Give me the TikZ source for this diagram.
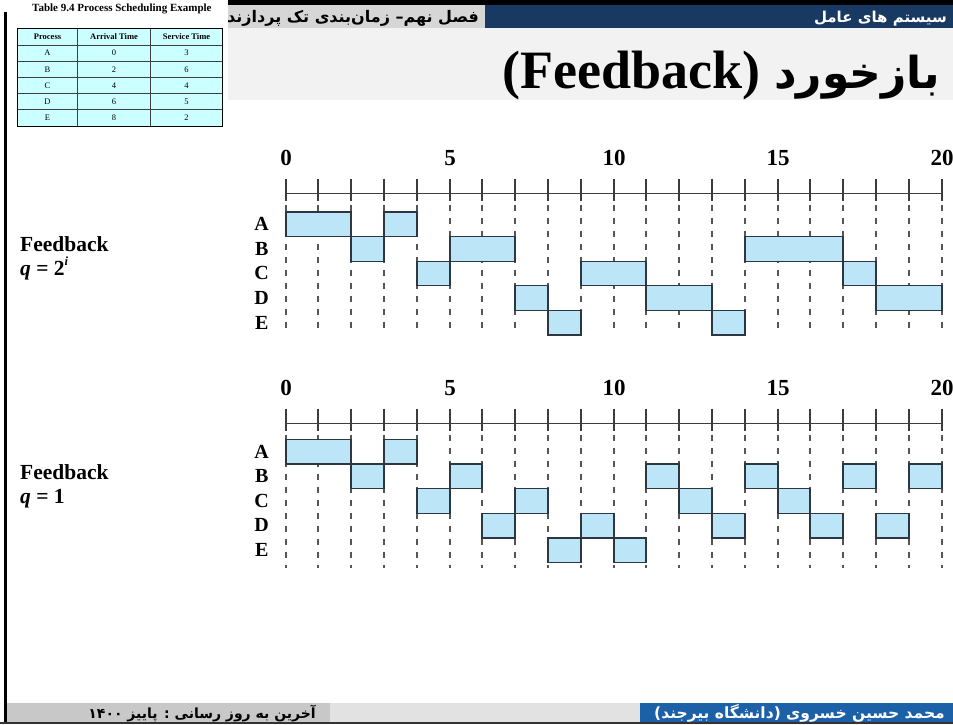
\documentclass[tikz,border=0pt]{standalone}
\usepackage{fontspec}
\setmainfont{Liberation Serif}
\newfontfamily\fa[Script=Arabic]{DejaVu Sans}
\newfontfamily\faL{DejaVu Sans}
\TeXXeTstate=1
\definecolor{hdrgray}{RGB}{214,214,214}
\definecolor{hdrblue}{RGB}{24,58,98}
\definecolor{lightbg}{RGB}{242,242,242}
\definecolor{ftgray}{RGB}{200,200,200}
\definecolor{ftmid}{RGB}{226,226,226}
\definecolor{ftblue}{RGB}{28,96,168}
\definecolor{tabfill}{RGB}{204,255,255}
\definecolor{boxfill}{RGB}{189,229,248}
\definecolor{boxline}{RGB}{45,55,65}
\definecolor{axcol}{RGB}{60,60,60}
\definecolor{dashcol}{RGB}{85,85,85}
\tikzset{
  axline/.style={line width=1.4pt, draw=axcol},
  axtick/.style={line width=1.6pt, draw=axcol},
  dashln/.style={line width=1.6pt, draw=dashcol, dash pattern=on 6pt off 7pt},
  runbox/.style={fill=boxfill, draw=boxline, line width=1.3pt},
  num/.style={font=\fontsize{23}{23}\selectfont\bfseries, anchor=base, inner sep=0pt},
  rowlab/.style={font=\fontsize{20}{20}\selectfont\bfseries, anchor=base, inner sep=0pt},
  sidelab/.style={font=\fontsize{21.5}{21.5}\selectfont\bfseries, anchor=base west, inner sep=0pt},
  tabtxt/.style={font=\fontsize{8.5}{8.5}\selectfont, inner sep=0pt},
  tabhd/.style={font=\fontsize{8.5}{8.5}\selectfont\bfseries, inner sep=0pt},
  tabgrid/.style={draw=black!75, line width=0.8pt},
}
\def\rh{24.6}
% x position of time t, pixel aligned
\newcommand\tx[2]{\pgfmathsetmacro#1{round(285.5+#2*32.8)}}
% #1 axis y, #2 row top, #3 dash bottom, #4 number baseline, #5 chart id
\newcommand\drawchart[5]{%
  \tx\xa{0}\tx\xb{20}%
  \draw[axline] (\xa,#1) -- (\xb,#1);
  \foreach \t in {0,...,20} {
    \tx\xx{\t}
    \draw[axtick] (\xx,{#1-15}) -- (\xx,{#1+7});
    \draw[dashln] (\xx,{#1+11}) -- (\xx,#3);
  }
  \foreach \t in {0,5,10,15,20} {
    \tx\xx{\t}
    \node[num] (n#5\t) at (\xx,#4) {\t};
  }
  \foreach \l [count=\i from 1] in {A,B,C,D,E} {
    \node[rowlab] (l#5\l) at (261.7,{#2+\i*\rh-6}) {\l};
  }
}
\newcommand\runs[2]{% #1 row top, #2 list r/a/b
  \foreach \r/\a/\b in {#2} {
    \tx\xl{\a}\tx\xr{\b}
    \draw[runbox] (\xl,{#1+\r*\rh}) rectangle (\xr,{#1+(\r+1)*\rh});
  }
}
\begin{document}
\begin{tikzpicture}[x=1pt,y=-1pt]
\useasboundingbox (0,0) rectangle (953,724);
\fill[white] (0,0) rectangle (953,724);
% header
\fill[black] (228,0) rectangle (953,5);
\fill[hdrgray] (228,5) rectangle (485,28);
\fill[hdrblue] (485,5) rectangle (953,28);
\fill[lightbg] (228,28) rectangle (953,100);
\begin{scope}
  \clip (228,5) rectangle (485,28);
  \node[anchor=base east, inner sep=0pt, font=\fa\bfseries\fontsize{16}{16}\selectfont] (chap) at (479,22)
    {\beginR فصل نهم\kern0pt–\kern0pt{} زمان‌بندی تک پردازنده\endR};
\end{scope}
\node[anchor=base east, inner sep=0pt, text=white, font=\fa\bfseries\fontsize{15}{15}\selectfont] (os) at (947,22)
  {\beginR سیستم های عامل\endR};
% title
\node[anchor=base east, inner sep=0pt, font=\fa\bfseries\fontsize{44}{44}\selectfont] (tfa) at (940,88)
  {\beginR بازخورد\endR};
\node[anchor=base east, inner sep=0pt, font=\fontsize{54}{54}\selectfont\bfseries] (ten) at ([xshift=-13pt]tfa.base west)
  {(Feedback)};
% left border
\fill[black] (4,12) rectangle (7,724);
% table
\node[anchor=base west, inner sep=0pt, font=\fontsize{11}{11}\selectfont\bfseries] (ttitle) at (32,11)
  {Table 9.4 Process Scheduling Example};
\fill[tabfill] (17.5,28.5) rectangle (222.5,126);
\foreach \yy in {45,61.2,77.4,93.6,109.8} {\draw[tabgrid] (17.5,\yy) -- (222.5,\yy);}
\foreach \xx in {77.5,150.5} {\draw[tabgrid] (\xx,28.5) -- (\xx,126);}
\draw[draw=black, line width=1pt] (17.5,28.5) rectangle (222.5,126);
\node[tabhd] (h1) at (47.5,37) {Process};
\node[tabhd] (h2) at (114,37) {Arrival Time};
\node[tabhd] (h3) at (186.5,37) {Service Time};
\foreach \p/\ar/\sv [count=\i from 0] in {A/0/3,B/2/6,C/4/4,D/6/5,E/8/2} {
  \node[tabtxt] (tp\i) at (47.5,{53.1+\i*16.2}) {\p};
  \node[tabtxt] (ta\i) at (114,{53.1+\i*16.2}) {\ar};
  \node[tabtxt] (ts\i) at (186.5,{53.1+\i*16.2}) {\sv};
}
% chart 1
\drawchart{193.5}{212}{330}{165}{a}
\runs{212}{0/0/2,0/3/4,1/2/3,1/5/7,1/14/17,2/4/5,2/9/11,2/17/18,3/7/8,3/11/13,3/18/20,4/8/9,4/13/14}
\node[sidelab] (fb1) at (20,251) {Feedback};
\node[sidelab] (q1) at (20,275) {\textit{q} = 2\raisebox{0.45em}{\fontsize{12.5}{12.5}\selectfont\bfseries\itshape i}};
% chart 2
\drawchart{423.5}{439.5}{568}{395}{b}
\runs{439.5}{0/0/2,0/3/4,1/2/3,1/5/6,1/11/12,1/14/15,1/17/18,1/19/20,2/4/5,2/7/8,2/12/13,2/15/16,3/6/7,3/9/10,3/13/14,3/16/17,3/18/19,4/8/9,4/10/11}
\node[sidelab] (fb2) at (20,479) {Feedback};
\node[sidelab] (q2) at (20,503) {\textit{q} = 1};
% footer
\fill[ftgray] (7,703) rectangle (330,722);
\fill[ftmid] (330,703) rectangle (640,722);
\fill[ftblue] (640,703) rectangle (953,722);
\fill[black!80] (0,722) rectangle (953,724);
\node[anchor=base east, inner sep=0pt, font=\fa\bfseries\fontsize{14}{14}\selectfont] (upd) at (316,718)
  {\beginR آخرین به روز رسانی : پاییز ۱۴۰۰\endR};
\node[anchor=base east, inner sep=0pt, text=white, font=\fa\bfseries\fontsize{15.5}{15.5}\selectfont] (auth) at (945,718)
  {{\faL\bfseries(}\beginR دانشگاه بیرجند\endR{\faL\bfseries)} \beginR محمد حسین خسروی\endR};
\end{tikzpicture}
\end{document}
